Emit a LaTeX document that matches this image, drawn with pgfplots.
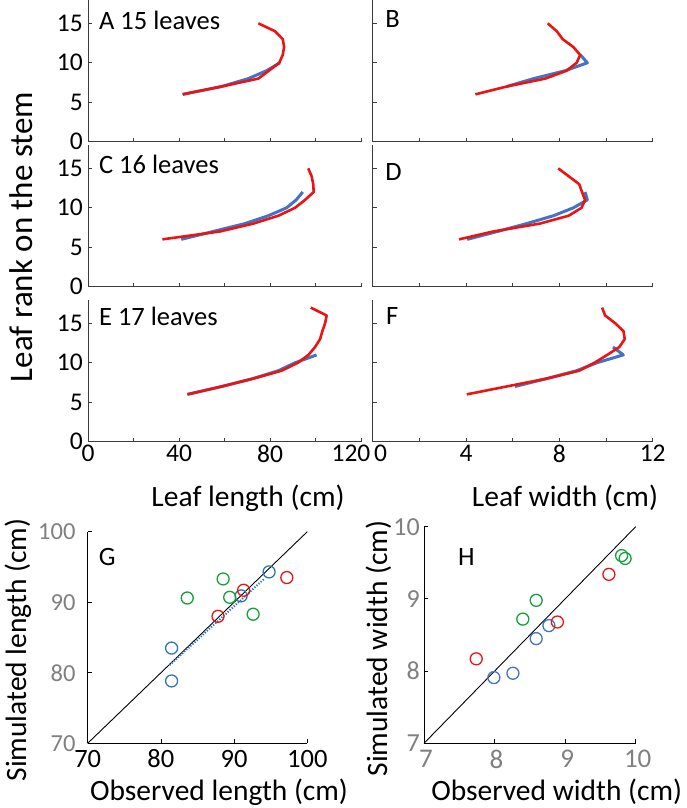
\documentclass[border=0pt]{standalone}
\usepackage{pgfplots}
\pgfplotsset{compat=1.18}
\usepackage{fontspec}
\setmainfont{Carlito}
\definecolor{lblue}{RGB}{68,114,196}
\definecolor{lred}{RGB}{235,20,20}
\definecolor{ggreen}{RGB}{20,160,60}
\definecolor{gblue}{RGB}{46,117,182}
\definecolor{axc}{RGB}{60,60,60}
\tikzset{
  bl/.style={lblue, line width=3pt, line join=round},
  rd/.style={lred, line width=2.6pt, line join=round},
  plab/.style={anchor=west, inner sep=0pt, font=\fontsize{26.5}{26.5}\selectfont},
}
\pgfplotsset{
  base/.style={scale only axis, anchor=south west, axis lines=left,
    axis line style={-, line width=1pt, axc}, tick style={line width=0.8pt, axc},
    major tick length=4pt, tick align=inside, clip=false,
    /pgf/number format/assume math mode=true,
    tick label style={font=\fontsize{25.5}{25.5}\selectfont},
    yticklabel style={inner sep=5pt}},
  leftcol/.style={base, xmin=0, xmax=120, ymin=0, ymax=18, width=273pt, height=142pt,
    xtick={0,20,...,120}, ytick={0,5,10,15}, yticklabels={0,5,10,15}, xticklabels={}},
  rightcol/.style={base, xmin=0, xmax=12, ymin=0, ymax=18, width=280pt, height=142pt,
    xtick={0,2,...,12}, ytick={0,5,10,15}, yticklabels={}, xticklabels={}},
}
\begin{document}
\begin{tikzpicture}
\useasboundingbox (0,0) rectangle (687pt,808pt);
% ---------- A ----------
\begin{axis}[leftcol, at={(88pt,666.3pt)}]
\addplot[bl] coordinates {(41.6,6)(58.8,7)(70.5,8)(78.5,9)(84.3,10)};
\addplot[rd] coordinates {(41.6,6)(58.8,7)(74.9,8)(79.5,9)(84.1,10)(85.6,11)(86.2,12)(85.6,13)(82.2,14)(74.9,15)};
\node[plab] at (axis cs:4.8,15.4) {A 15 leaves};
\end{axis}
% ---------- B ----------
\begin{axis}[rightcol, at={(372.7pt,666.3pt)}]
\addplot[bl] coordinates {(5.75,7)(6.9,8)(8.25,9)(9.2,10)(8.9,11)};
\addplot[rd] coordinates {(4.4,6)(5.75,7)(7.4,8)(8.31,9)(8.74,10)(8.89,11)(8.6,12)(8.14,13)(7.89,14)(7.5,15)};
\node[plab] at (axis cs:0.53,15.6) {B};
\end{axis}
% ---------- C ----------
\begin{axis}[leftcol, at={(88pt,521.3pt)}]
\addplot[bl] coordinates {(41,6)(55,7)(69,8)(79.3,9)(87.3,10)(91.5,11)(94.4,12)};
\addplot[rd] coordinates {(32.7,6)(58,7)(72.7,8)(83.7,9)(91,10)(95.4,11)(99.2,12)(99,13)(98.3,14)(96.8,15)};
\node[plab] at (axis cs:4.8,15.5) {C 16 leaves};
\end{axis}
% ---------- D ----------
\begin{axis}[rightcol, at={(372.7pt,521.3pt)}]
\addplot[bl] coordinates {(4.05,6)(5.35,7)(6.6,8)(7.75,9)(8.6,10)(9.2,11)(9.1,12)};
\addplot[rd] coordinates {(3.7,6)(5.17,7)(7.17,8)(8.4,9)(8.95,10)(9.1,11)(8.97,12)(8.85,13)(8.4,14)(7.95,15)};
\node[plab] at (axis cs:0.53,14.5) {D};
\end{axis}
% ---------- E ----------
\begin{axis}[leftcol, at={(88pt,366.3pt)}, xticklabels={0,,40,,80,,{\hspace*{-20pt}120}}]
\addplot[bl] coordinates {(43.7,6)(58.8,7)(72.5,8)(83.7,9)(91,10)(100.5,11)};
\addplot[rd] coordinates {(43.7,6)(58.8,7)(72.7,8)(85.1,9)(92.2,10)(96.9,11)(99.8,12)(102,13)(103,14)(104.2,15)(104.9,16)(97.9,17)};
\node[plab] at (axis cs:4.8,15.9) {E 17 leaves};
\end{axis}
% ---------- F ----------
\begin{axis}[rightcol, at={(372.7pt,366.3pt)}, xticklabels={{0\hspace*{-16pt}},,4,,8,,12}]
\addplot[bl] coordinates {(6.1,7)(7.46,8)(8.74,9)(9.6,10)(10.74,11)(10.3,12)};
\addplot[rd] coordinates {(4.03,6)(5.74,7)(7.46,8)(8.85,9)(9.5,10)(10.05,11)(10.57,12)(10.8,13)(10.75,14)(10.4,15)(9.96,16)(9.83,17)};
\node[plab] at (axis cs:0.57,15.9) {F};
\end{axis}
% ---------- G ----------
\begin{axis}[base, at={(87.7pt,64.7pt)}, width=219.6pt, height=211.6pt,
  xmin=70, xmax=100, ymin=70, ymax=100, xtick={70,80,90,100}, ytick={70,80,90,100},
  axis line style={-, line width=1pt, black}, tick style={line width=0.8pt, black},
  xticklabel style={font=\fontsize{26.5}{26.5}\selectfont, yshift=-3pt},
  yticklabel style={font=\fontsize{24.5}{24.5}\selectfont, text=black!50, inner sep=12pt}]
\addplot[black, line width=0.9pt] coordinates {(70,70)(100,100)};
\addplot[gblue, line width=2pt, dash pattern=on 1.2pt off 1.6pt] coordinates {(81.2,81.1)(94.2,93.4)};
\addplot[only marks, mark=o, mark size=6pt, mark options={line width=1.3pt}, gblue] coordinates {(81.46,83.5)(81.46,78.84)(90.96,90.9)(94.78,94.3)};
\addplot[only marks, mark=o, mark size=6pt, mark options={line width=1.3pt}, lred] coordinates {(87.8,88.0)(91.3,91.7)(97.2,93.5)};
\addplot[only marks, mark=o, mark size=6pt, mark options={line width=1.3pt}, ggreen] coordinates {(83.6,90.6)(88.5,93.3)(89.4,90.7)(92.6,88.3)};
\node[plab] at (axis cs:71.5,96.35) {G};
\end{axis}
% ---------- H ----------
\begin{axis}[base, at={(424pt,64.7pt)}, width=211.7pt, height=216.6pt,
  xmin=7, xmax=10, ymin=7, ymax=10, xtick={7,8,9,10}, ytick={7,8,9,10},
  axis line style={-, line width=1pt, black}, tick style={line width=0.8pt, black},
  xticklabel style={font=\fontsize{27}{27}\selectfont, text=black!50, yshift=-3pt, xshift=2pt},
  yticklabel style={font=\fontsize{26}{26}\selectfont, text=black!50, inner sep=4pt}]
\addplot[black, line width=0.9pt] coordinates {(7,7)(10,10)};
\addplot[only marks, mark=o, mark size=6pt, mark options={line width=1.3pt}, lblue] coordinates {(7.99,7.91)(8.26,7.97)(8.59,8.45)(8.77,8.63)};
\addplot[only marks, mark=o, mark size=6pt, mark options={line width=1.3pt}, lred] coordinates {(7.74,8.17)(8.89,8.68)(9.62,9.34)};
\addplot[only marks, mark=o, mark size=6pt, mark options={line width=1.3pt}, ggreen] coordinates {(8.40,8.72)(8.59,8.98)(9.8,9.6)(9.85,9.56)};
\node[plab] at (axis cs:7.48,9.58) {H};
\end{axis}
% ---------- labels ----------
\node[rotate=90, anchor=base, font=\fontsize{33}{33}\selectfont] at (32pt,571pt) {Leaf rank on the stem};
\node[anchor=base, font=\fontsize{29.5}{29.5}\selectfont] at (248pt,301pt) {Leaf length (cm)};
\node[anchor=base, font=\fontsize{29.5}{29.5}\selectfont] at (565pt,301pt) {Leaf width (cm)};
\node[anchor=base, font=\fontsize{29.5}{29.5}\selectfont] at (219pt,8pt) {Observed length (cm)};
\node[anchor=base, font=\fontsize{29.5}{29.5}\selectfont] at (556.7pt,8pt) {Observed width (cm)};
\node[rotate=90, anchor=base, font=\fontsize{29.5}{29.5}\selectfont] at (26pt,158pt) {Simulated length (cm)};
\node[rotate=90, anchor=base, font=\fontsize{29.5}{29.5}\selectfont] at (387pt,159.5pt) {Simulated width (cm)};
\end{tikzpicture}
\end{document}
